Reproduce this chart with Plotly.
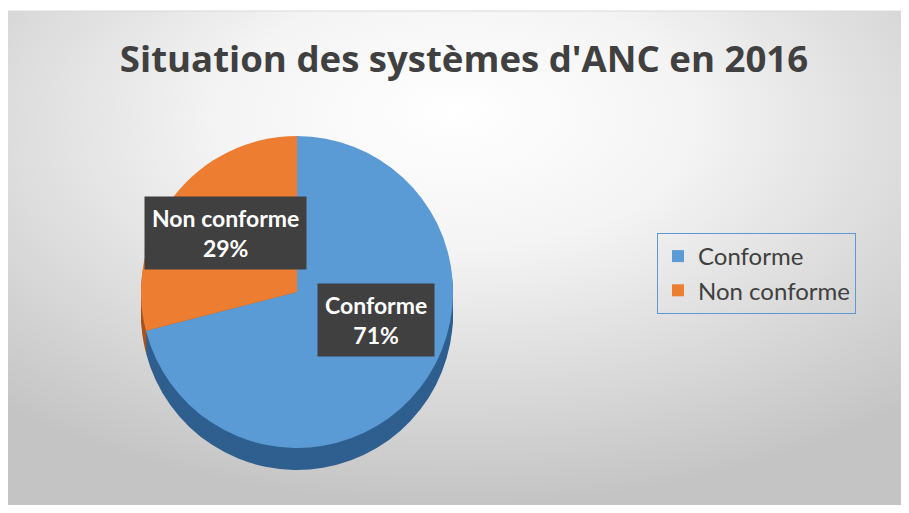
import base64
import plotly.graph_objects as go

# ---- data ----
labels = ["Conforme", "Non conforme"]
values = [71, 29]
title_text = "Situation des systèmes d'ANC en 2016"

top_colors = ["#5B9BD5", "#ED7D31"]
side_colors = ["#2F5F8F", "#A8531D"]

# page is 909x513, body has an 8px margin
FW, FH = 893, 497

def px_x(x):
    return (x - 8) / FW

def px_y(y):
    return 1 - (y - 8) / FH

# background gradient (chart area)
svg = (
    '<svg xmlns="http://www.w3.org/2000/svg" width="900" height="500" viewBox="0 0 900 500" preserveAspectRatio="none">'
    '<defs><radialGradient id="g" cx="50%" cy="25%" r="75%" fx="50%" fy="20%">'
    '<stop offset="0" stop-color="#ffffff"/>'
    '<stop offset="0.35" stop-color="#f4f4f4"/>'
    '<stop offset="1" stop-color="#c4c4c4"/>'
    '</radialGradient></defs>'
    '<rect width="900" height="500" fill="url(#g)"/></svg>'
)
bg_uri = "data:image/svg+xml;base64," + base64.b64encode(svg.encode()).decode()

fig = go.Figure()

# pie geometry (page pixels)
cx, cy, r = 297, 292, 156
depth = 22
n_layers = 8
for k in range(n_layers, 0, -1):
    off = depth * k / n_layers
    fig.add_trace(go.Pie(
        labels=labels, values=values, sort=False, direction="clockwise", rotation=0,
        marker=dict(colors=side_colors, line=dict(width=0)),
        textinfo="none", hoverinfo="skip", showlegend=False,
        domain=dict(x=[px_x(cx - r), px_x(cx + r)], y=[px_y(cy + r + off), px_y(cy - r + off)]),
    ))

fig.add_trace(go.Pie(
    labels=labels, values=values, sort=False, direction="clockwise", rotation=0,
    marker=dict(colors=top_colors, line=dict(width=0)),
    textinfo="none", showlegend=True,
    domain=dict(x=[px_x(cx - r), px_x(cx + r)], y=[px_y(cy + r), px_y(cy - r)]),
))

total = sum(values)
label_pos = [(376, 320), (225, 233)]
annotations = []
for lab, v, (ax, ay) in zip(labels, values, label_pos):
    annotations.append(dict(
        x=px_x(ax), y=px_y(ay), xref="paper", yref="paper", showarrow=False,
        xanchor="center", yanchor="middle",
        text=f"<b>{lab}<br>{round(v / total * 100)}%</b>",
        font=dict(family="Lato", size=23, color="white"),
        bgcolor="#404040", borderpad=7, align="center",
    ))

fig.update_layout(
    width=FW, height=FH,
    margin=dict(l=0, r=0, t=0, b=0),
    paper_bgcolor="white",
    images=[dict(source=bg_uri, xref="paper", yref="paper",
                 x=0, y=px_y(11), sizex=1, sizey=(FH - 3) / FH,
                 sizing="stretch", layer="below", xanchor="left", yanchor="top")],
    shapes=[dict(type="line", xref="paper", yref="paper",
                 x0=0, x1=1, y0=px_y(11), y1=px_y(11),
                 line=dict(color="#d9d9d9", width=1))],
    title=dict(text=f"<b>{title_text}</b>", x=px_x(464), xanchor="center", y=px_y(59), yanchor="middle",
               font=dict(family="Open Sans", size=36.6, color="#404040")),
    legend=dict(x=px_x(657), y=px_y(233), xanchor="left", yanchor="top",
                bordercolor="#5B9BD5", borderwidth=1, bgcolor="rgba(0,0,0,0)",
                font=dict(family="Lato", size=24, color="#404040")),
    annotations=annotations,
)

fig.write_html("out.html")
